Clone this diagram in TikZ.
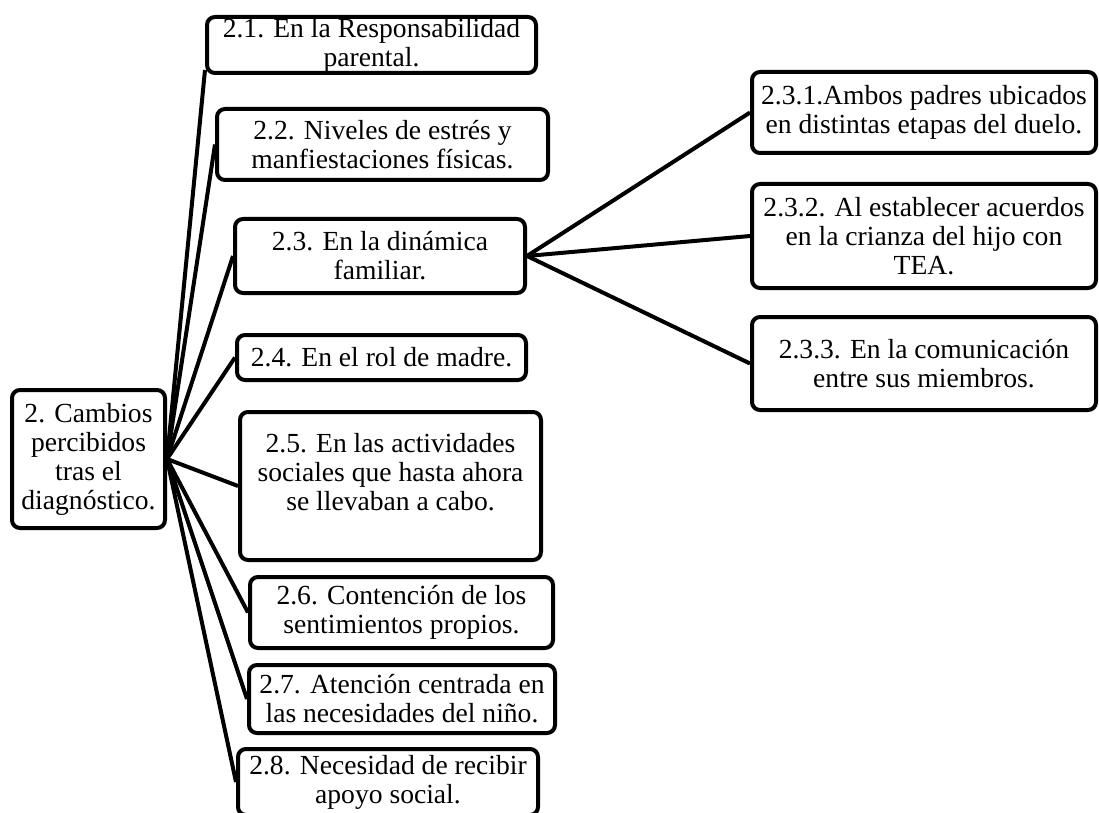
\documentclass[tikz,border=0pt]{standalone}
\usepackage{fontspec}
\setmainfont{Liberation Serif}

\begin{document}
\begin{tikzpicture}[x=0.5pt,y=-0.5pt,
  every node/.style={draw,rounded corners=4pt,line width=2pt,align=center,
    inner sep=0pt,font=\fontsize{13.8}{14.5}\selectfont},
  rootnode/.style={minimum width=76.5pt,minimum height=69pt},
  subnode/.style={},
  leafnode/.style={minimum width=172pt},
  link/.style={line width=2pt},
]
\useasboundingbox (0,0) rectangle (1099,813);

% the root
\node[rootnode] (root) at (88.5,459) {2. Cambios\\percibidos\\tras el\\diagnóstico.};

% the first level
\node[subnode,minimum width=164.5pt,minimum height=28pt] (b1) at (371.5,45)
  {2.1. En la Responsabilidad\\parental.};
\node[subnode,minimum width=165.5pt,minimum height=35.5pt] (b2) at (382.5,144.5)
  {2.2. Niveles de estrés y\\manfiestaciones físicas.};
\node[subnode,minimum width=145pt,minimum height=37pt] (b3) at (380,256)
  {2.3. En la dinámica\\familiar.};
\node[subnode,minimum width=144.5pt,minimum height=22.5pt] (b4) at (381.5,357.5)
  {2.4. En el rol de madre.};
\node[subnode,minimum width=150.5pt,minimum height=74pt] (b5) at (390.5,486)
  {2.5. En las actividades\\sociales que hasta ahora\\se llevaban a cabo.\\\mbox{}};
\node[subnode,minimum width=151.5pt,minimum height=35.5pt] (b6) at (401.5,612.5)
  {2.6. Contención de los\\sentimientos propios.};
\node[subnode,minimum width=153pt,minimum height=34pt] (b7) at (402,699)
  {2.7. Atención centrada en\\las necesidades del niño.};
\node[subnode,minimum width=150pt,minimum height=33pt] (b8) at (388,782)
  {2.8. Necesidad de recibir\\apoyo social.};

% the second level
\node[leafnode,minimum height=40.5pt] (c1) at (924,112.5)
  {2.3.1.Ambos padres ubicados\\en distintas etapas del duelo.};
\node[leafnode,minimum height=52pt] (c2) at (924,236)
  {2.3.2. Al establecer acuerdos\\en la crianza del hijo con\\TEA.};
\node[leafnode,minimum height=46.5pt] (c3) at (924,363.5)
  {2.3.3. En la comunicación\\entre sus miembros.};

% links
\draw[link] (root.east) -- ([yshift=-12.5pt]b1.west);
\foreach \i in {2,...,8}
\draw[link] (root.east) -- (b\i.west);
\foreach \i in {1,2,3}
\draw[link] (b3.east) -- (c\i.west);
\end{tikzpicture}
\end{document}
